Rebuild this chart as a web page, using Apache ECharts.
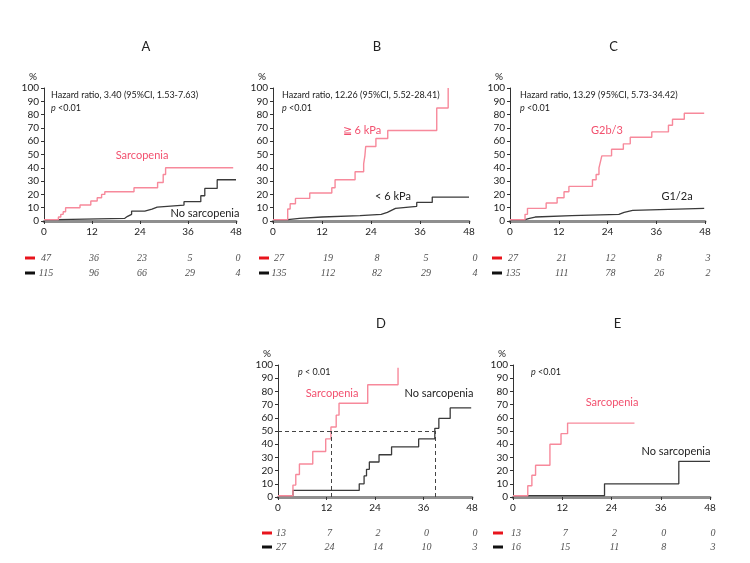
<!DOCTYPE html>
<html><head><meta charset="utf-8">
<script src="https://cdn.jsdelivr.net/npm/echarts@6/dist/echarts.min.js"></script>
<style>html,body{margin:0;padding:0;background:#fff}#c{width:750px;height:563px}</style>
</head><body><div id="c"></div>
<script>
// ---- data ----
const riskMonths = [0, 12, 24, 36, 48];

const aRed   = [[0,1],[3.6,3],[4.2,5],[4.8,7],[5.4,10],[9,12],[11.7,15],[13.3,17.5],[14.4,20],[15.2,22],[22.5,25],[28.4,29],[29.8,35],[30.4,40],[47.3,40]];
const aBlack = [[0,1],[3.6,2],[20.2,3.5],[20.9,5],[21.9,7.5],[25.2,9],[27,10.5],[28.3,12],[35,14.5],[39.2,19],[40.2,24.5],[43.3,31],[48,31]];
const bRed   = [[0,1],[3.6,9],[4.2,13],[5.5,17],[9,21],[14.4,25],[15.2,31],[20.1,37],[22.2,43],[22.5,49],[22.7,56],[25.2,62],[28.1,68],[40.1,85],[42.9,100]];
const bBlack = [[0,1],[3.6,2],[6.5,3],[12,4],[21.3,5],[26.5,6.5],[28,8],[29,9.5],[30,11],[35.2,14],[39,18],[48,18]];
const cRed   = [[0,1],[3.7,5],[4.3,9.5],[8.9,13.5],[11.6,17.5],[13.3,22],[14.5,26],[20.3,31],[21.2,35],[21.9,40],[22.3,45],[22.6,49],[25,54],[27.9,58],[29.6,63],[34.9,67],[39,72],[40,76.5],[42.9,81],[47.8,81]];
const cBlack = [[0,1],[3.7,2],[4.8,3],[6.2,4],[15.2,5],[26.8,6.5],[28.1,8],[30.2,9.5],[47.8,9.5]];
const dRed   = [[0,1],[3.7,9],[4.4,17],[5.3,25],[8.6,34.5],[11.8,44],[13.1,53],[14.4,62],[15.1,71],[22.2,85],[29.7,98]];
const dBlack = [[0,1],[3.7,5],[20.1,10],[21.3,16],[21.9,21],[22.6,26.5],[25,32],[28.1,38],[34.8,44],[38.8,52],[39.8,59.5],[42.6,67.5],[47.8,67.5]];
const eRed   = [[0,1],[3.6,8.5],[4.6,16.5],[5.5,24],[9,40],[11.7,48],[13.3,56],[29.6,56]];
const eBlack = [[0,1],[22.3,10],[40.4,27],[48,27]];

const aRiskRed = [47,36,23,5,0],  aRiskBlack = [115,96,66,29,4];
const bRiskRed = [27,19,8,5,0],   bRiskBlack = [135,112,82,29,4];
const cRiskRed = [27,21,12,8,3],  cRiskBlack = [135,111,78,26,2];
const dRiskRed = [13,7,2,0,0],    dRiskBlack = [27,24,14,10,3];
const eRiskRed = [13,7,2,0,0],    eRiskBlack = [16,15,11,8,3];

const dHalf = 50;
const dMedians = [13.2, 38.8];

// ---- layout ----
const RED_LINE = '#f7899b', RED_TXT = '#f2506e', BLACK_LINE = '#3a3a3a';
const FONT = 'Lato';
const panels = [
  {t:'A', left:44,  top:88,  w:192, h:133, red:aRed, black:aBlack, rr:aRiskRed, rb:aRiskBlack, rTop:250.5, rH:30, dash:25,  off:2},
  {t:'B', left:273, top:88,  w:196, h:133, red:bRed, black:bBlack, rr:bRiskRed, rb:bRiskBlack, rTop:250.5, rH:30, dash:259, off:6},
  {t:'C', left:510, top:88,  w:195, h:133, red:cRed, black:cBlack, rr:cRiskRed, rb:cRiskBlack, rTop:250.5, rH:30, dash:492, off:3},
  {t:'D', left:278, top:365, w:194, h:132, red:dRed, black:dBlack, rr:dRiskRed, rb:dRiskBlack, rTop:526, rH:28, dash:262, off:3},
  {t:'E', left:513, top:365, w:197, h:132, red:eRed, black:eBlack, rr:eRiskRed, rb:eRiskBlack, rTop:526, rH:28, dash:493, off:3}
];

const grid = [], xAxis = [], yAxis = [], series = [], graphic = [];
function txt(x, y, text, o) {
  o = o || {};
  graphic.push({type:'text', x:x, y:y, silent:true, style:{
    text:text, fill:o.color||'#222', font:(o.style||'normal')+' '+(o.weight||'normal')+' '+(o.size||10)+'px '+(o.family||FONT),
    align:o.align||'left', verticalAlign:'middle', rich:o.rich}});
}

panels.forEach((p, i) => {
  const gi = i*2, ri = i*2+1;
  grid.push({left:p.left, top:p.top, width:p.w, height:p.h});
  grid.push({left:p.left + p.off, top:p.rTop, width:p.w, height:p.rH});
  xAxis.push({gridIndex:gi, type:'value', min:0, max:48, interval:12,
    axisLine:{show:true, onZero:false, lineStyle:{color:'#8f8f8f', width:3}},
    axisTick:{show:true, length:3, lineStyle:{color:'#333', width:1}},
    axisLabel:{fontSize:10, color:'#222', margin:6, fontFamily:FONT},
    splitLine:{show:false}});
  xAxis.push({gridIndex:ri, type:'value', min:0, max:48, show:false});
  yAxis.push({gridIndex:gi, type:'value', min:0, max:100, interval:10,
    axisLine:{show:true, lineStyle:{color:'#333', width:1}},
    axisTick:{show:true, length:3, lineStyle:{color:'#333'}},
    axisLabel:{fontSize:10, color:'#222', margin:5, fontFamily:FONT},
    splitLine:{show:false}});
  yAxis.push({gridIndex:ri, type:'value', min:-0.5, max:1.5, inverse:true, show:false});

  const blackSeries = {type:'line', xAxisIndex:gi, yAxisIndex:gi, data:p.black, step:'end',
    symbol:'none', z:3, lineStyle:{color:BLACK_LINE, width:1.3}, animation:false};
  if (p.t === 'D') {
    blackSeries.markLine = {silent:true, symbol:'none', label:{show:false}, animation:false,
      lineStyle:{type:[4,3], color:'#444', width:1},
      data:[
        [{coord:[0, dHalf]}, {coord:[dMedians[1], dHalf]}],
        [{coord:[dMedians[0], 0]}, {coord:[dMedians[0], dHalf]}],
        [{coord:[dMedians[1], 0]}, {coord:[dMedians[1], dHalf]}]
      ]};
  }
  series.push(blackSeries);
  series.push({type:'line', xAxisIndex:gi, yAxisIndex:gi, data:p.red, step:'end',
    symbol:'none', z:4, lineStyle:{color:RED_LINE, width:1.4}, animation:false});

  const riskData = [];
  riskMonths.forEach((m, k) => { riskData.push([m, 0, p.rr[k]]); riskData.push([m, 1, p.rb[k]]); });
  series.push({type:'scatter', xAxisIndex:ri, yAxisIndex:ri, data:riskData, symbolSize:1,
    itemStyle:{color:'rgba(0,0,0,0)'}, animation:false,
    label:{show:true, position:'inside', formatter:q => q.value[2], color:'#222',
      fontFamily:'Liberation Serif', fontStyle:'italic', fontSize:10}});

  // at-risk keys
  const r0 = p.rTop + p.rH*0.25, r1 = p.rTop + p.rH*0.75;
  graphic.push({type:'rect', silent:true, shape:{x:p.dash, y:r0-1.5, width:10, height:3}, style:{fill:'#e8141c'}});
  graphic.push({type:'rect', silent:true, shape:{x:p.dash, y:r1-1.5, width:10, height:3}, style:{fill:'#111'}});
  // "%"
  txt(p.left-11, p.top-11, '%', {size:10, align:'center'});
  // panel letter
  txt(p.left + p.w/2 + 6, p.top - 41, p.t, {size:13, align:'center'});
});

const rich = {i:{fontStyle:'italic', fontSize:9, fontFamily:FONT, fill:'#222'}};
const HS = 9;
// Panel A
txt(51, 95, 'Hazard ratio, 3.40 (95%CI, 1.53-7.63)', {size:HS});
txt(51, 108, '{i|p} <0.01', {size:HS, rich});
txt(142, 155, 'Sarcopenia', {size:11, color:RED_TXT, align:'center'});
txt(205, 213, 'No sarcopenia', {size:11, align:'center'});
// Panel B
txt(282, 95, 'Hazard ratio, 12.26 (95%CI, 5.52-28.41)', {size:HS});
txt(282, 108, '{i|p} <0.01', {size:HS, rich});
txt(362, 130, '≧ 6 kPa', {size:11, color:RED_TXT, align:'center'});
txt(393, 196, '< 6 kPa', {size:11, align:'center'});
// Panel C
txt(520, 95, 'Hazard ratio, 13.29 (95%CI, 5.73-34.42)', {size:HS});
txt(520, 108, '{i|p} <0.01', {size:HS, rich});
txt(607, 130, 'G2b/3', {size:11, color:RED_TXT, align:'center'});
txt(677, 196, 'G1/2a', {size:11, align:'center'});
// Panel D
txt(298, 372, '{i|p} < 0.01', {size:HS, rich});
txt(332, 393, 'Sarcopenia', {size:11, color:RED_TXT, align:'center'});
txt(439, 393, 'No sarcopenia', {size:11, align:'center'});
// Panel E
txt(531, 372, '{i|p} <0.01', {size:HS, rich});
txt(612, 402, 'Sarcopenia', {size:11, color:RED_TXT, align:'center'});
txt(676, 451, 'No sarcopenia', {size:11, align:'center'});

const chart = echarts.init(document.getElementById('c'), null, {renderer:'canvas'});
chart.setOption({animation:false, backgroundColor:'#fff', grid, xAxis, yAxis, series, graphic});
</script>
</body></html>
